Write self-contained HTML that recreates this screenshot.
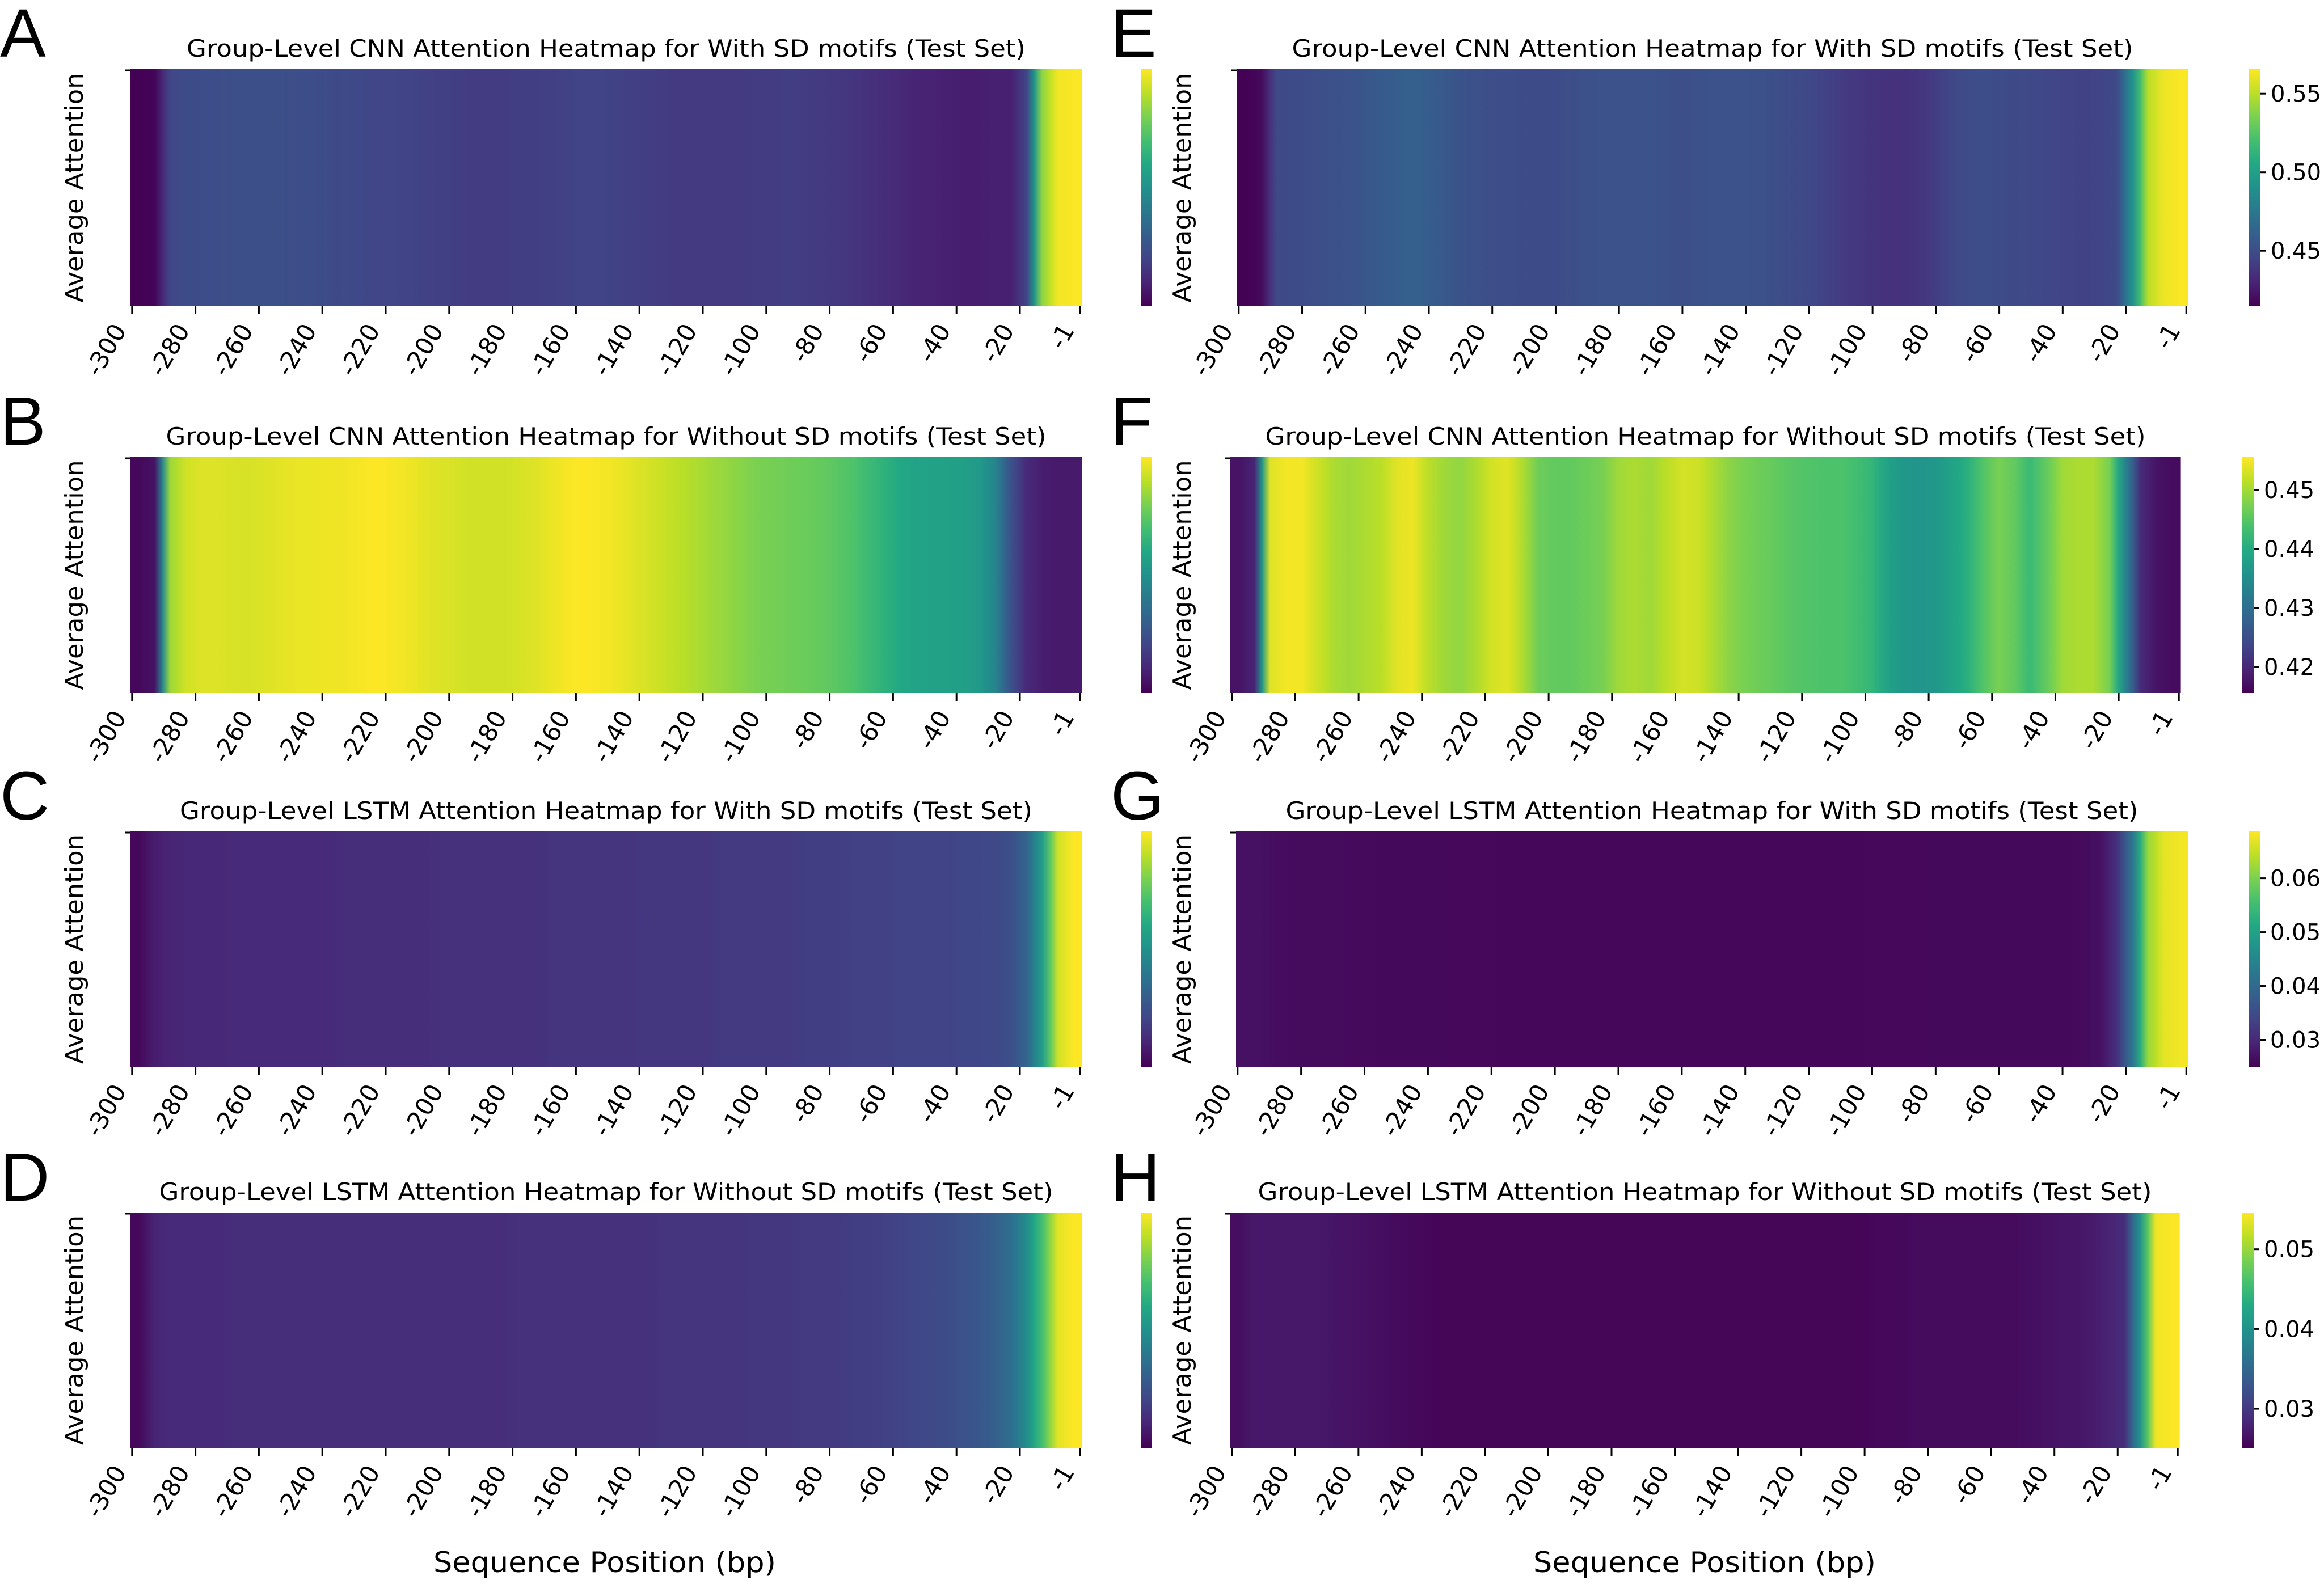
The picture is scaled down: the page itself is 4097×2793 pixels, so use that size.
<!DOCTYPE html>
<html><head><meta charset="utf-8">
<style>
html,body{margin:0;padding:0;background:#fff;}
svg{display:block;font-family:"DejaVu Sans","Liberation Sans",sans-serif;}
</style></head>
<body>
<svg id="fig" width="4097" height="2793" viewBox="0 0 4097 2793" xmlns="http://www.w3.org/2000/svg">
<defs id="defs"></defs>
</svg>
<script>
// ---- data (60 bins of 5 bp each, from -300 to -1) ----
const tickLabels = ["-300","-280","-260","-240","-220","-200","-180","-160","-140","-120","-100","-80","-60","-40","-20","-1"];
const tickIndex = [0,20,40,60,80,100,120,140,160,180,200,220,240,260,280,299];
const panelLetters = ["A","B","C","D","E","F","G","H"];
const panelTitles = [
 "Group-Level CNN Attention Heatmap for With SD motifs (Test Set)",
 "Group-Level CNN Attention Heatmap for Without SD motifs (Test Set)",
 "Group-Level LSTM Attention Heatmap for With SD motifs (Test Set)",
 "Group-Level LSTM Attention Heatmap for Without SD motifs (Test Set)",
 "Group-Level CNN Attention Heatmap for With SD motifs (Test Set)",
 "Group-Level CNN Attention Heatmap for Without SD motifs (Test Set)",
 "Group-Level LSTM Attention Heatmap for With SD motifs (Test Set)",
 "Group-Level LSTM Attention Heatmap for Without SD motifs (Test Set)"];
const valuesA = [.415,.416,.446,.449,.450,.450,.451,.451,.451,.451,.450,.450,.449,.448,.447,.446,.446,.445,.444,.443,.442,.441,.441,.441,.442,.442,.443,.444,.445,.445,.444,.443,.442,.441,.440,.440,.440,.440,.440,.441,.441,.442,.441,.440,.439,.438,.436,.434,.432,.430,.429,.428,.427,.427,.428,.428,.445,.54,.563,.565];
const valuesB = [.02,.05,.85,.93,.95,.95,.94,.94,.95,.96,.97,.97,.98,.98,.99,1,.99,.98,.96,.95,.94,.93,.93,.93,.94,.95,.97,.99,1,.99,.98,.96,.94,.92,.9,.88,.86,.84,.82,.8,.79,.78,.77,.76,.74,.72,.68,.64,.6,.58,.57,.57,.56,.54,.45,.25,.12,.08,.07,.07];
const valuesC = [.02,.08,.10,.11,.11,.11,.12,.12,.12,.12,.12,.12,.12,.13,.13,.13,.13,.13,.13,.14,.14,.14,.14,.14,.14,.14,.15,.15,.15,.15,.15,.15,.16,.16,.16,.16,.16,.17,.17,.17,.17,.17,.18,.18,.18,.19,.19,.19,.2,.2,.2,.2,.21,.21,.22,.24,.32,.55,.93,1.0];
const valuesD = [.02,.1,.12,.12,.12,.12,.13,.13,.13,.13,.13,.13,.13,.13,.13,.13,.13,.13,.13,.13,.13,.13,.13,.13,.14,.14,.14,.14,.14,.14,.14,.14,.14,.15,.15,.15,.15,.15,.15,.16,.16,.16,.17,.17,.17,.18,.18,.19,.2,.21,.22,.23,.25,.27,.3,.36,.48,.7,.96,1.0];
const valuesE = [.415,.418,.448,.449,.450,.451,.452,.454,.456,.458,.460,.460,.458,.455,.452,.451,.450,.450,.449,.449,.450,.451,.452,.453,.453,.453,.452,.451,.451,.452,.453,.453,.452,.451,.450,.448,.446,.443,.440,.438,.437,.436,.437,.439,.444,.448,.450,.450,.449,.448,.447,.446,.445,.444,.445,.448,.49,.55,.562,.565];
const valuesF = [.4176,.4196,.4536,.455,.455,.4526,.4506,.4498,.4506,.4514,.4538,.4546,.4514,.4498,.449,.4506,.453,.4538,.4506,.4466,.4458,.4458,.4466,.4474,.4498,.4506,.4498,.4514,.453,.4526,.4506,.4486,.4474,.4466,.4458,.445,.4446,.4442,.4442,.4434,.4418,.4386,.4366,.4362,.4366,.4386,.4406,.4446,.4474,.4458,.4426,.4458,.4498,.4506,.4506,.4474,.4336,.4204,.4176,.4168];
const valuesG = [.027,.027,.0265,.0263,.0262,.0262,.0262,.0261,.0261,.026,.026,.026,.026,.0259,.0259,.0259,.0258,.0258,.0258,.0258,.0258,.0258,.0258,.0258,.0258,.0258,.0258,.0258,.0258,.0258,.0258,.0258,.0258,.0258,.0258,.0258,.0258,.0258,.0258,.0258,.0259,.0259,.0259,.0259,.026,.026,.026,.026,.026,.026,.026,.026,.026,.0262,.027,.031,.042,.062,.067,.068];
const valuesH = [.0262,.027,.027,.027,.027,.027,.0268,.0266,.0264,.0262,.026,.0258,.0256,.0255,.0255,.0255,.0255,.0255,.0255,.0255,.0255,.0255,.0255,.0255,.0255,.0255,.0255,.0255,.0255,.0255,.0255,.0255,.0255,.0255,.0255,.0255,.0255,.0255,.0255,.0255,.0256,.0257,.0258,.026,.026,.026,.026,.026,.026,.026,.0262,.0265,.0268,.0268,.0272,.028,.029,.040,.054,.0545];
const vminList = [.4147,0,0,0,.4147,.4156,.025,.0251];
const vmaxList = [.5656,1,1,1,.5656,.4556,.0687,.0546];
const cbTicksE = [0.45,0.50,0.55];
const cbTicksF = [0.42,0.43,0.44,0.45];
const cbTicksG = [0.03,0.04,0.05,0.06];
const cbTicksH = [0.03,0.04,0.05];

// ---- layout ----
const allValues=[valuesA,valuesB,valuesC,valuesD,valuesE,valuesF,valuesG,valuesH];
const allCbTicks=[null,null,null,null,cbTicksE,cbTicksF,cbTicksG,cbTicksH];
const rowsY=[[122,540],[806,1222],[1466,1881],[2138,2553]];
const heatX=[[230,1907],[230,1907],[230,1907],[230,1907],[2181,3857],[2169,3844],[2179,3857],[2169,3842]];
const cbX=[2011,2011,2011,2011,3965,3953,3964,3953];
const titleLens=[1479,1552,1503,1576,1483,1552,1503,1576];
const letterPos=[[0,100],[0,784],[0,1445],[0,2117],[1958,100],[1958,784],[1958,1445],[1958,2117]];
const stops=[[68,1,84],[72,36,117],[65,68,135],[53,95,141],[42,120,142],[33,145,140],[34,168,132],[68,191,112],[122,209,81],[189,223,38],[253,231,37]];
function viridis(t){t=Math.max(0,Math.min(1,t));const f=t*10,i=Math.min(9,Math.floor(f)),r=f-i;const a=stops[i],b=stops[i+1];
 return `rgb(${Math.round(a[0]+(b[0]-a[0])*r)},${Math.round(a[1]+(b[1]-a[1])*r)},${Math.round(a[2]+(b[2]-a[2])*r)})`;}
const NS="http://www.w3.org/2000/svg";
const svg=document.getElementById('fig');const defs=document.getElementById('defs');
function mk(tag,attrs,parent){const e=document.createElementNS(NS,tag);for(const k in attrs)e.setAttribute(k,attrs[k]);(parent||svg).appendChild(e);return e;}
let gid=0;
for(let p=0;p<8;p++){
 const vals=allValues[p],vmin=vminList[p],vmax=vmaxList[p];
 const [x0,x1]=heatX[p];const [y0,y1]=rowsY[p%4];
 const n=vals.length,cw=(x1-x0)/n;
 const norm=v=>(v-vmin)/(vmax-vmin);
 const xScale=idx=>x0+(idx+0.5)*(x1-x0)/300;
 const g=mk('g',{});
 
 
 for(let i=0;i<n;i++){
  const prev=vals[Math.max(0,i-1)],cur=vals[i],next=vals[Math.min(n-1,i+1)];
  const id='cg'+(gid++);
  const lg=mk('linearGradient',{id:id,x1:'0',x2:'1',y1:'0',y2:'0'},defs);
  mk('stop',{offset:'0','stop-color':viridis(norm((prev+cur)/2))},lg);
  mk('stop',{offset:'0.5','stop-color':viridis(norm(cur))},lg);
  mk('stop',{offset:'1','stop-color':viridis(norm((cur+next)/2))},lg);
  const r=mk('rect',{x:(x0+i*cw).toFixed(2),y:y0,width:(cw+0.6).toFixed(2),height:y1-y0,fill:`url(#${id})`},g);
  
  
 }
 mk('line',{x1:x0-10,y1:y0+2,x2:x0,y2:y0+2,stroke:'#000','stroke-width':3},g);
 for(let k=0;k<tickLabels.length;k++){
  const tx=xScale(tickIndex[k]);
  mk('line',{x1:tx,y1:y1,x2:tx,y2:y1+14,stroke:'#000','stroke-width':3},g);
  const t=mk('text',{x:tx-9,y:y1+42,'font-size':43,'text-anchor':'end',transform:`rotate(-60 ${tx-9} ${y1+42})`},g);
  t.textContent=tickLabels[k];
  
  
 }
 const tt=mk('text',{x:(x0+x1)/2,y:y0-22,'font-size':42,'text-anchor':'middle',textLength:titleLens[p],lengthAdjust:'spacingAndGlyphs'},g);
 tt.textContent=panelTitles[p];
 
 
 const ylx=p<4?146:2099,ymid=(y0+y1)/2;
 const yl=mk('text',{x:ylx,y:ymid,'font-size':44,'text-anchor':'middle',textLength:405,lengthAdjust:'spacingAndGlyphs',transform:`rotate(-90 ${ylx} ${ymid})`},g);
 yl.textContent='Average Attention';
 
 
 const lt=mk('text',{x:letterPos[p][0],y:letterPos[p][1],'font-size':121,'font-family':'Liberation Sans, sans-serif'},svg);
 lt.textContent=panelLetters[p];
 
 
 const cid='cb'+p;
 const cg=mk('linearGradient',{id:cid,x1:'0',x2:'0',y1:'1',y2:'0'},defs);
 for(let s=0;s<stops.length;s++)mk('stop',{offset:(s/10).toString(),'stop-color':`rgb(${stops[s].join(',')})`},cg);
 const cbx=cbX[p];
 const cb=mk('rect',{x:cbx,y:y0,width:20,height:y1-y0,fill:`url(#${cid})`},svg);
 
 
 const ticks=allCbTicks[p];
 if(ticks){for(const tv of ticks){
  const ty=y1-(tv-vmin)/(vmax-vmin)*(y1-y0);
  mk('line',{x1:cbx+20,y1:ty,x2:cbx+30,y2:ty,stroke:'#000','stroke-width':3},svg);
  const ct=mk('text',{x:cbx+38,y:ty+14,'font-size':40},svg);
  ct.textContent=tv.toFixed(2);
  
  
 }}
}
for(const cx of [1066,3005]){
 const xl=mk('text',{x:cx,y:2772,'font-size':50,'text-anchor':'middle',textLength:604,lengthAdjust:'spacingAndGlyphs'},svg);
 xl.textContent='Sequence Position (bp)';
 
 
}
</script>
</body></html>
